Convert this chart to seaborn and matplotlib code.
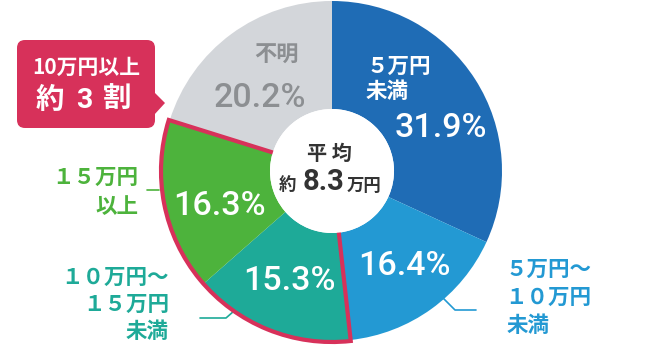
import matplotlib
matplotlib.use("Agg")
import matplotlib.pyplot as plt
from matplotlib.patches import Wedge, Circle, FancyBboxPatch, Polygon
import seaborn as sns
import numpy as np

# ---- data ----
categories = ["５万円未満", "５万円～１０万円未満", "１０万円～１５万円未満", "１５万円以上", "不明"]
values = [31.9, 16.4, 15.3, 16.3, 20.2]
pct_labels = ["31.9%", "16.4%", "15.3%", "16.3%", "20.2%"]
average_label = "8.3"
callout_lines = ["10万円以上", "約 3 割"]

sns.set_theme(style="white")
plt.rcParams['font.family'] = ['Noto Sans CJK JP', 'DejaVu Sans']

colors = ["#1f6cb5", "#2399d3", "#1eaa98", "#4db33c", "#d3d6da"]
red = "#d7315a"
gray_txt = "#8c8f92"

fig = plt.figure(figsize=(6.54, 3.46), dpi=100)
ax = fig.add_axes([0, 0, 1, 1])

cx, cy, R, r_in = 332, 171, 170, 62

ax.pie(values, colors=colors, startangle=-90, counterclock=True,
       center=(cx, cy), radius=R, frame=True,
       wedgeprops=dict(width=R - r_in, linewidth=0))
ax.set_xlim(0, 654)
ax.set_ylim(346, 0)
ax.set_aspect('equal')
ax.axis('off')

# red outline around 10万円以上 slices (index 2 and 3)
cum = np.cumsum([0] + values)
t1 = -90 + cum[2] / sum(values) * 360
t2 = -90 + cum[4] / sum(values) * 360
ax.add_patch(Wedge((cx, cy), R + 1, t1, t2, width=R + 1 - 59,
                   fill=False, edgecolor=red, linewidth=3, zorder=5,
                   joinstyle='miter'))
ax.add_patch(Circle((cx, cy), r_in, facecolor='white', edgecolor='none', zorder=6))

num_font = ['Roboto', 'Noto Sans CJK JP']
W = 'bold'
# percentages
pct_pos = [(441, 128), (404, 266), (289, 281), (219, 206), (260, 98)]
pct_col = ['white', 'white', 'white', 'white', gray_txt]
for (x, y), s, c in zip(pct_pos, pct_labels, pct_col):
    ax.text(x, y, s, ha='center', va='center', fontsize=24.5, color=c,
            family=num_font, fontweight='medium', zorder=7)

# inner labels
ax.text(366, 66, "５万円", ha='left', va='center', fontsize=15.5, color='white', fontweight=W, zorder=7)
ax.text(366, 92, "未満", ha='left', va='center', fontsize=15.5, color='white', fontweight=W, zorder=7)
ax.text(276, 55, "不明", ha='center', va='center', fontsize=16, color=gray_txt, fontweight=W, zorder=7)

# center
ax.text(329, 153, "平 均", ha='center', va='center', fontsize=14.5, color='#333333', fontweight='bold', zorder=7)
ax.text(287, 185, "約", ha='center', va='center', fontsize=12.5, color='#333333', fontweight='bold', zorder=7)
ax.text(323, 182, average_label, ha='center', va='center', fontsize=21, color='#333333',
        family=num_font, fontweight='bold', zorder=7)
ax.text(364, 186, "万円", ha='center', va='center', fontsize=12.5, color='#333333', fontweight='bold', zorder=7)

# outer labels
fs_out = 15.5
ax.text(138, 177, "１５万円", ha='right', va='center', fontsize=fs_out, color=colors[3], fontweight=W)
ax.text(138, 207, "以上", ha='right', va='center', fontsize=fs_out, color=colors[3], fontweight=W)
ax.plot([147, 159], [190, 190], color=colors[3], lw=1.2)

ax.text(169, 277, "１０万円～", ha='right', va='center', fontsize=fs_out, color=colors[2], fontweight=W)
ax.text(169, 304, "１５万円", ha='right', va='center', fontsize=fs_out, color=colors[2], fontweight=W)
ax.text(169, 332, "未満", ha='right', va='center', fontsize=fs_out, color=colors[2], fontweight=W)
ax.plot([200, 226, 234], [318, 318, 311], color=colors[2], lw=1.2)

ax.text(505, 269, "５万円～", ha='left', va='center', fontsize=fs_out, color=colors[1], fontweight=W)
ax.text(505, 297, "１０万円", ha='left', va='center', fontsize=fs_out, color=colors[1], fontweight=W)
ax.text(507, 325, "未満", ha='left', va='center', fontsize=fs_out, color=colors[1], fontweight=W)
ax.plot([443, 455, 476], [298, 310, 310], color=colors[1], lw=1.2)

# callout
ax.add_patch(FancyBboxPatch((17, 40), 138, 88, boxstyle="round,pad=0,rounding_size=8",
                            facecolor=red, edgecolor='none', zorder=8))
ax.add_patch(Polygon([(154, 92), (165, 103), (154, 115)], closed=True,
                     facecolor=red, edgecolor='none', zorder=8))
ax.text(86, 67, callout_lines[0], ha='center', va='center', fontsize=15, color='white',
        fontweight=W, zorder=9)
for xpos, ch in zip([50, 84, 117], callout_lines[1].split()):
    ax.text(xpos, 100, ch, ha='center', va='center', fontsize=20.5, color='white',
            fontweight='bold', family=['Roboto', 'Noto Sans CJK JP'] if ch.isdigit() else None,
            zorder=9)

fig.savefig("out.png", dpi=100)
